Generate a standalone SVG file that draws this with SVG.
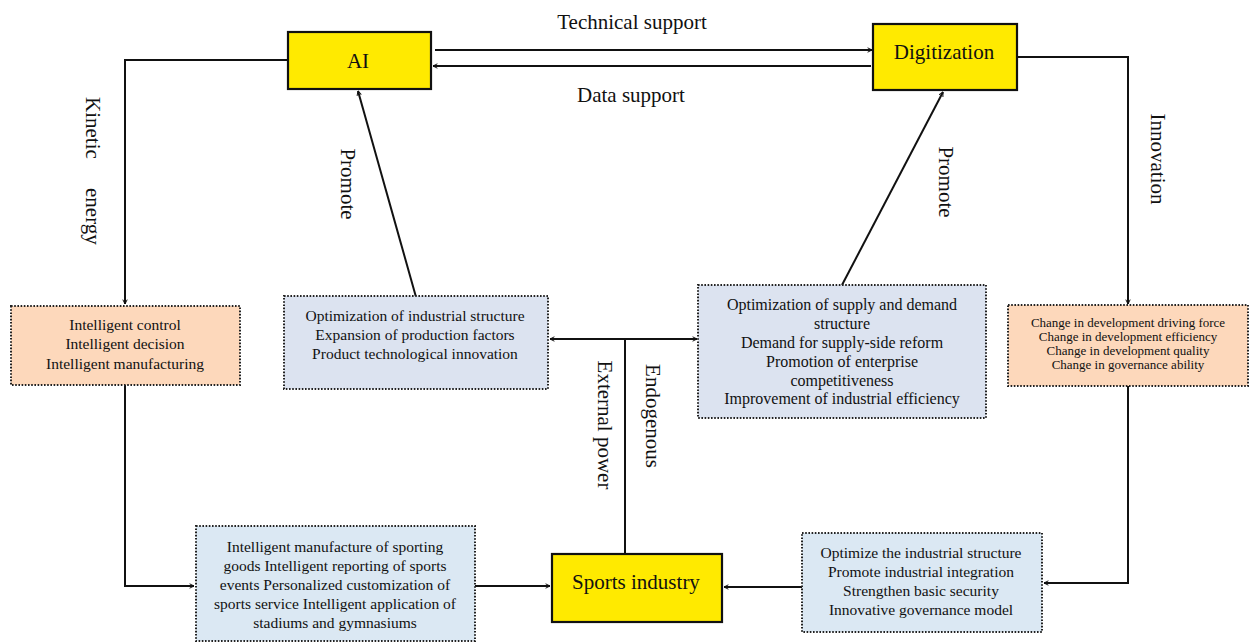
<svg xmlns="http://www.w3.org/2000/svg" width="1253" height="643" viewBox="0 0 1253 643">
<style>
text{font-family:"Liberation Serif","Times New Roman",serif;fill:#111}
.big{font-size:21px}
.mid{font-size:15.5px;text-anchor:middle}
.sm{font-size:13px;text-anchor:middle}
.c{text-anchor:middle}
.key{fill:#FFEA00;stroke:#111;stroke-width:2.2}
.dot{stroke:#222;stroke-width:2;stroke-dasharray:1.6 1.6}
.org{fill:#FDD8BB}
.lav{fill:#DCE3F0}
.sky{fill:#DBE8F3}
.ln{fill:none;stroke:#111;stroke-width:2;marker-end:url(#ah)}
.ln0{fill:none;stroke:#111;stroke-width:2}
</style>
<defs>
<marker id="ah" viewBox="0 0 10 10" refX="9" refY="5" markerWidth="5.5" markerHeight="5.5" markerUnits="userSpaceOnUse" orient="auto">
<path d="M1,1 L9,5 L1,9" fill="none" stroke="#111" stroke-width="1.8"/>
</marker>
</defs>
<rect width="1253" height="643" fill="#fff"/>

<g id="connectors">
<path class="ln" d="M435,50 H872"/>
<path class="ln" d="M871,66 H433"/>
<path class="ln" d="M288,60 H125 V304"/>
<path class="ln" d="M1017,57 H1128 V304"/>
<path class="ln" d="M416,297 L358,91"/>
<path class="ln" d="M842,285 L943,92"/>
<path class="ln" d="M125,385 V586 H194"/>
<path class="ln" d="M1128,386 V583 H1044"/>
<path class="ln" d="M475,586 H550"/>
<path class="ln" d="M802,587 H724"/>
<path class="ln0" d="M625,554 V339"/>
<path class="ln" d="M625,339 H550"/>
<path class="ln" d="M625,339 H697"/>
</g>

<g id="labels">
<text class="big c" x="632" y="29">Technical support</text>
<text class="big c" x="631" y="102">Data support</text>
<text class="big" transform="translate(86,97) rotate(90)">Kinetic<tspan x="91">energy</tspan></text>
<text class="big c" transform="translate(341,184) rotate(90)">Promote</text>
<text class="big c" transform="translate(939,182) rotate(90)">Promote</text>
<text class="big c" transform="translate(1151,159) rotate(90)">Innovation</text>
<text class="big c" transform="translate(598,425) rotate(90)">External power</text>
<text class="big c" transform="translate(646,416) rotate(90)">Endogenous</text>
</g>

<g id="ai">
<rect class="key" x="288" y="32" width="143" height="57"/>
<text class="big c" x="358" y="68">AI</text>
</g>

<g id="digitization">
<rect class="key" x="873" y="24" width="144" height="66"/>
<text class="big c" x="944" y="59">Digitization</text>
</g>

<g id="sports-industry">
<rect class="key" x="552" y="554" width="170" height="68"/>
<text class="big c" x="636" y="589">Sports industry</text>
</g>

<g id="intelligent-left">
<rect class="org dot" x="11" y="306" width="229" height="79"/>
<text class="mid" x="125" y="330">Intelligent control</text>
<text class="mid" x="125" y="349">Intelligent decision</text>
<text class="mid" x="125" y="369">Intelligent manufacturing</text>
</g>

<g id="optimization-left">
<rect class="lav dot" x="284" y="296" width="264" height="93"/>
<text class="mid" x="415" y="321">Optimization of industrial structure</text>
<text class="mid" x="415" y="340">Expansion of production factors</text>
<text class="mid" x="415" y="359">Product technological innovation</text>
</g>

<g id="optimization-right">
<rect class="lav dot" x="698" y="285" width="288" height="133"/>
<text class="mid" x="842" y="310" style="font-size:16px">Optimization of supply and demand</text>
<text class="mid" x="842" y="329" style="font-size:16px">structure</text>
<text class="mid" x="842" y="348" style="font-size:16px">Demand for supply-side reform</text>
<text class="mid" x="842" y="367" style="font-size:16px">Promotion of enterprise</text>
<text class="mid" x="842" y="386" style="font-size:16px">competitiveness</text>
<text class="mid" x="842" y="404" style="font-size:16px">Improvement of industrial efficiency</text>
</g>

<g id="change-right">
<rect class="org dot" x="1008" y="305" width="240" height="81"/>
<text class="sm" x="1128" y="327">Change in development driving force</text>
<text class="sm" x="1128" y="341">Change in development efficiency</text>
<text class="sm" x="1128" y="355">Change in development quality</text>
<text class="sm" x="1128" y="369">Change in governance ability</text>
</g>

<g id="sports-applications">
<rect class="sky dot" x="196" y="526" width="279" height="115"/>
<text class="mid" x="335" y="552">Intelligent manufacture of sporting</text>
<text class="mid" x="335" y="571">goods Intelligent reporting of sports</text>
<text class="mid" x="335" y="590">events Personalized customization of</text>
<text class="mid" x="335" y="609">sports service Intelligent application of</text>
<text class="mid" x="335" y="628">stadiums and gymnasiums</text>
</g>

<g id="governance">
<rect class="sky dot" x="802" y="533" width="240" height="99"/>
<text class="mid" x="921" y="558">Optimize the industrial structure</text>
<text class="mid" x="921" y="577">Promote industrial integration</text>
<text class="mid" x="921" y="596">Strengthen basic security</text>
<text class="mid" x="921" y="615">Innovative governance model</text>
</g>
</svg>
